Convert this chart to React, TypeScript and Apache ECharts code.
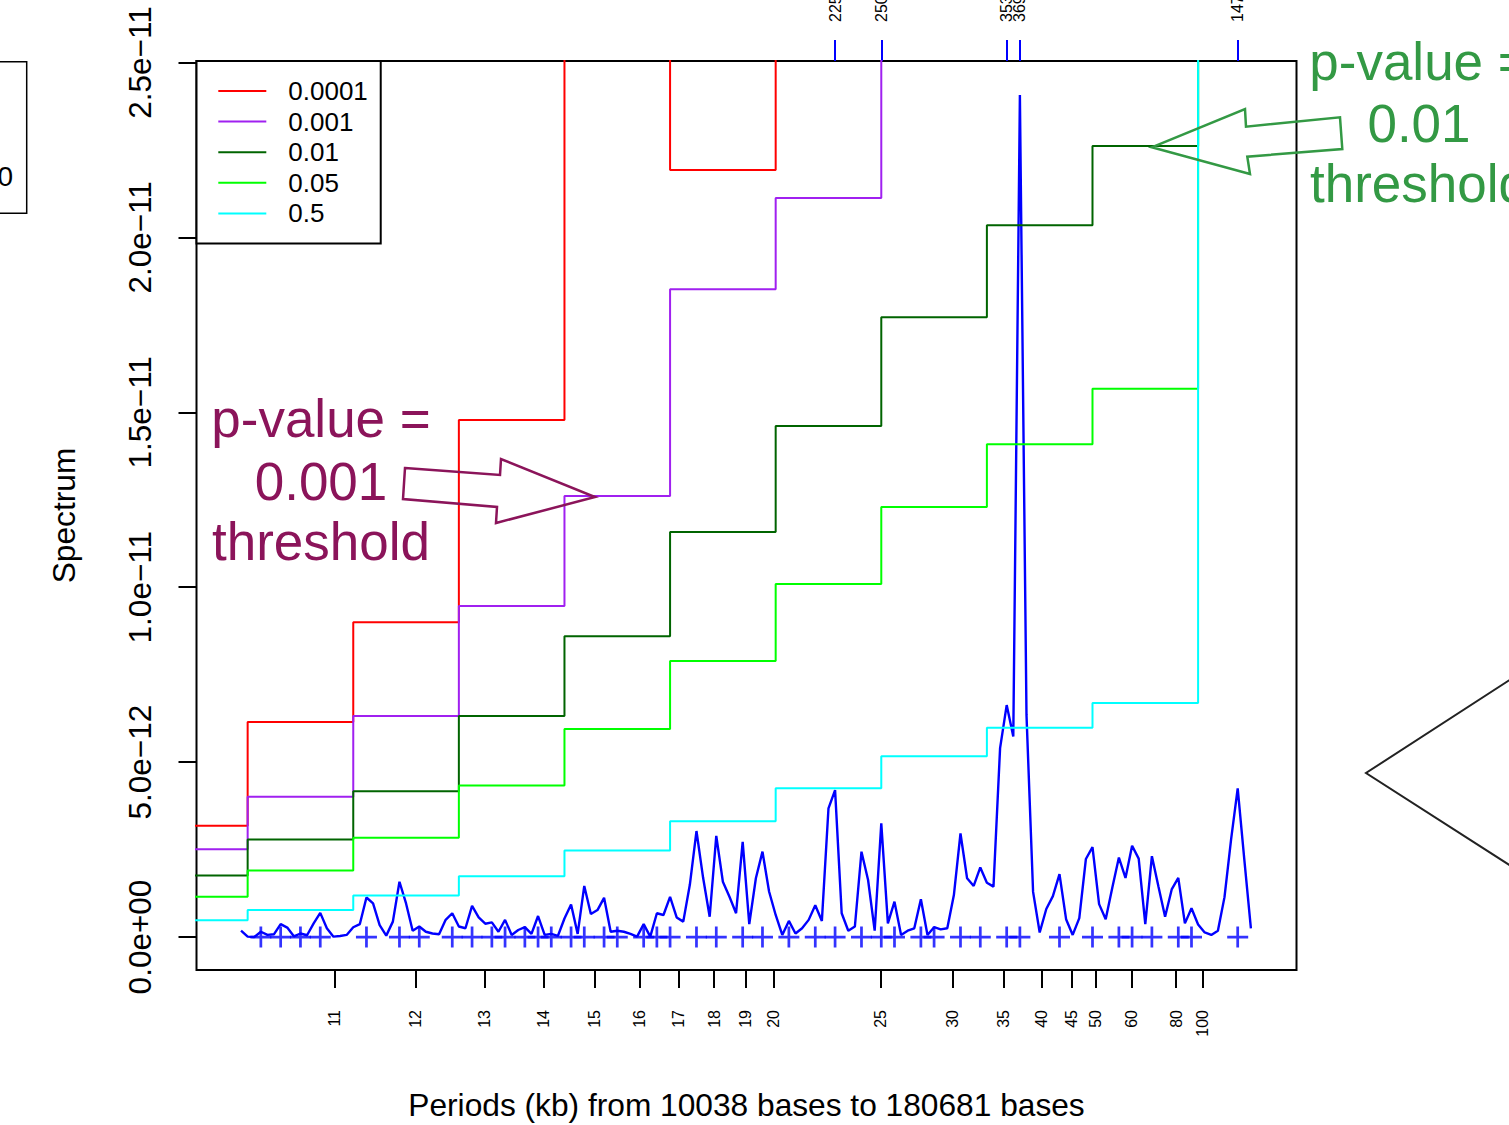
import React, { useEffect, useRef } from "react";
import * as echarts from "echarts";

// ---------- data ----------
const SEQ_LENGTH_BASES = 1626129;
const SEQ_LENGTH_KB = SEQ_LENGTH_BASES / 1000;
const FIRST_HARMONIC = 162;
const LAST_HARMONIC = 9;
const HARMONICS: number[] = [];
for (let k = FIRST_HARMONIC; k >= LAST_HARMONIC; k--) HARMONICS.push(k);

// spectrum values, in units of 1e-12, harmonic 162 .. 9
const SPECTRUM_E12 = [
  0.18, 0.01, 0.0, 0.15, 0.06, 0.08, 0.37, 0.27, 0.02, 0.1,
  0.05, 0.39, 0.69, 0.25, 0.01, 0.03, 0.06, 0.28, 0.37, 1.13,
  0.96, 0.34, 0.04, 0.44, 1.58, 0.96, 0.18, 0.3, 0.15, 0.1,
  0.08, 0.49, 0.68, 0.3, 0.25, 0.89, 0.56, 0.38, 0.42, 0.15,
  0.49, 0.06, 0.2, 0.28, 0.09, 0.6, 0.06, 0.09, 0.03, 0.53,
  0.93, 0.09, 1.46, 0.66, 0.77, 1.12, 0.15, 0.18, 0.15, 0.09,
  0.01, 0.37, 0.01, 0.68, 0.63, 1.15, 0.56, 0.44, 1.5, 3.03,
  1.7, 0.58, 2.89, 1.58, 1.15, 0.68, 2.72, 0.37, 1.68, 2.44,
  1.3, 0.63, 0.06, 0.46, 0.1, 0.25, 0.49, 0.91, 0.46, 3.68,
  4.2, 0.68, 0.18, 0.3, 2.44, 1.63, 0.18, 3.25, 0.39, 1.01,
  0.06, 0.18, 0.25, 1.08, 0.06, 0.28, 0.22, 0.25, 1.2, 2.96,
  1.68, 1.46, 1.99, 1.55, 1.44, 5.4, 6.63, 5.73, 24.07, 6.35,
  1.29, 0.13, 0.8, 1.17, 1.8, 0.51, 0.06, 0.54, 2.23, 2.57,
  0.94, 0.51, 1.41, 2.27, 1.69, 2.61, 2.24, 0.37, 2.31, 1.44,
  0.58, 1.36, 1.69, 0.39, 0.82, 0.36, 0.13, 0.06, 0.18, 1.14,
  2.79, 4.25, 2.22, 0.25,
];

// local peaks marked with "+"
const PEAK_HARMONICS = [
  159, 156, 153, 150, 143, 138, 135, 130, 127, 124, 122, 119, 117, 115, 112,
  110, 107, 105, 101, 99, 97, 93, 90, 86, 83, 79, 75, 72, 68, 65, 63, 59, 57,
  53, 50, 46, 44, 38, 33, 29, 27, 24, 20, 18, 11,
];

// top axis: significant peaks (period in bases)
const TOP_HARMONICS = [72, 65, 46, 44, 11];
const TOP_LABELS = ["22585", "25017", "35351", "36957", "147830"];

const PERIOD_TICKS_KB = [11, 12, 13, 14, 15, 16, 17, 18, 19, 20, 25, 30, 35, 40, 45, 50, 60, 80, 100];
const Y_TICKS_E12 = [0, 5, 10, 15, 20, 25];

// threshold step functions, bins of 16 harmonics
const BIN_EDGES = [177, 161, 145, 129, 113, 97, 81, 65, 49, 33, 17];
const OFF_SCALE = 28; // beyond top of the plot
const THR_0001 = [3.18, 6.15, 9.0, 14.78, OFF_SCALE, 21.93, OFF_SCALE];
const THR_001 = [2.51, 4.01, 6.32, 9.46, 12.61, 18.52, 21.13, OFF_SCALE];
const THR_01 = [1.76, 2.79, 4.17, 6.32, 8.6, 11.58, 14.61, 17.72, 20.35, 22.61, OFF_SCALE];
const THR_05 = [1.15, 1.9, 2.84, 4.33, 5.95, 7.89, 10.09, 12.29, 14.09, 15.67, OFF_SCALE];
const THR_5 = [0.48, 0.77, 1.19, 1.74, 2.47, 3.31, 4.25, 5.17, 5.98, 6.69, OFF_SCALE];

const THRESHOLDS = [
  { name: "0.0001", color: "#FF0000", values: THR_0001 },
  { name: "0.001", color: "#A020F0", values: THR_001 },
  { name: "0.01", color: "#006400", values: THR_01 },
  { name: "0.05", color: "#00FF00", values: THR_05 },
  { name: "0.5", color: "#00FFFF", values: THR_5 },
];

const X_TITLE = "Periods (kb) from 10038 bases to 180681 bases";
const Y_TITLE = "Spectrum";

// ---------- helpers ----------
const FONT = "Liberation Sans, Arial, Helvetica, sans-serif";
const freq = (k: number) => k / SEQ_LENGTH_KB;
const X_MIN = 0.001286;
const X_MAX = 0.103774;

function expLabel(v: number) {
  const s = (v * 1e-12).toExponential(1);
  const m = s.match(/^(-?[\d.]+)e([+-])(\d+)$/);
  if (!m) return s;
  const exp = m[3].padStart(2, "0");
  return m[1] + "e" + (m[2] === "-" ? "\u2212" : "+") + exp;
}

export default function App() {
  const ref = useRef<HTMLDivElement>(null);
  useEffect(() => {
    if (!ref.current) return;
    const chart = echarts.init(ref.current, undefined, { renderer: "svg" });

    const spectrumData = HARMONICS.map((k, i) => [freq(k), SPECTRUM_E12[i]]);
    const peakData = PEAK_HARMONICS.map((k) => [freq(k), 0]);

    const thresholdSeries = THRESHOLDS.map((t) => ({
      name: t.name,
      type: "line",
      step: "end",
      data: t.values.map((v, i) => [freq(BIN_EDGES[i]), v]),
      showSymbol: false,
      symbol: "none",
      lineStyle: { color: t.color, width: 2 },
      itemStyle: { color: t.color },
      clip: true,
      silent: true,
      z: 3,
    }));

    const topFreqs = TOP_HARMONICS.map(freq);

    const option: any = {
      animation: false,
      backgroundColor: "#ffffff",
      textStyle: { fontFamily: FONT },
      grid: {
        left: 196.5,
        right: 212.5,
        top: 61,
        bottom: 155,
        show: true,
        borderColor: "#000",
        borderWidth: 2,
        backgroundColor: "transparent",
        containLabel: false,
        outerBoundsMode: "none",
      },
      legend: {
        show: true,
        orient: "vertical",
        left: 196.5,
        top: 61,
        data: THRESHOLDS.map((t) => t.name),
        icon: "rect",
        itemWidth: 48,
        itemHeight: 2,
        itemGap: 0,
        padding: [14.7, 12.9, 14.7, 21.8],
        borderColor: "#000",
        borderWidth: 2,
        backgroundColor: "#fff",
        selectedMode: false,
        textStyle: {
          fontSize: 26,
          fontFamily: FONT,
          color: "#000",
          lineHeight: 30.6,
          padding: [0, 0, 0, 17],
        },
      },
      xAxis: [
        {
          type: "value",
          min: X_MIN,
          max: X_MAX,
          inverse: true,
          position: "bottom",
          name: X_TITLE,
          nameLocation: "middle",
          nameGap: 119,
          nameTextStyle: { fontSize: 31.7, fontFamily: FONT, color: "#000" },
          axisLine: { show: false, onZero: false },
          splitLine: { show: false },
          axisTick: {
            show: true,
            length: 18,
            customValues: PERIOD_TICKS_KB.map((p) => 1 / p),
            lineStyle: { color: "#000", width: 2 },
          },
          axisLabel: {
            show: true,
            rotate: 90,
            margin: 40,
            fontSize: 16,
            fontFamily: FONT,
            color: "#000",
            hideOverlap: false,
            customValues: PERIOD_TICKS_KB.map((p) => 1 / p),
            formatter: (v: number) => String(Math.round(1 / v)),
          },
        },
        {
          type: "value",
          min: X_MIN,
          max: X_MAX,
          inverse: true,
          position: "top",
          axisLine: { show: false, onZero: false },
          splitLine: { show: false },
          axisTick: {
            show: true,
            length: 21,
            customValues: topFreqs,
            lineStyle: { color: "#0000FF", width: 2 },
          },
          axisLabel: {
            show: true,
            rotate: -90,
            margin: 39,
            fontSize: 16,
            fontFamily: FONT,
            color: "#000",
            hideOverlap: false,
            customValues: topFreqs,
            formatter: (v: number) => {
              let best = 0;
              topFreqs.forEach((f, i) => {
                if (Math.abs(f - v) < Math.abs(topFreqs[best] - v)) best = i;
              });
              return TOP_LABELS[best];
            },
          },
        },
      ],
      yAxis: {
        type: "value",
        min: -0.943,
        max: 25.043,
        name: Y_TITLE,
        nameLocation: "middle",
        nameRotate: 90,
        nameGap: 117,
        nameTextStyle: { fontSize: 31.7, fontFamily: FONT, color: "#000" },
        axisLine: { show: false, onZero: false },
        splitLine: { show: false },
        axisTick: {
          show: true,
          length: 18,
          customValues: Y_TICKS_E12,
          lineStyle: { color: "#000", width: 2 },
        },
        axisLabel: {
          show: true,
          rotate: 90,
          margin: 41,
          fontSize: 31.5,
          fontFamily: FONT,
          color: "#000",
          hideOverlap: false,
          customValues: Y_TICKS_E12,
          formatter: (v: number) => expLabel(v),
        },
      },
      series: [
        {
          name: "spectrum",
          type: "line",
          data: spectrumData,
          showSymbol: false,
          symbol: "none",
          lineStyle: { color: "#0000FF", width: 2.4 },
          itemStyle: { color: "#0000FF" },
          clip: true,
          silent: true,
          z: 2,
        },
        {
          name: "peaks",
          type: "scatter",
          data: peakData,
          symbol: "path://M8.7,0H11.3V8.7H20V11.3H11.3V20H8.7V11.3H0V8.7H8.7Z",
          symbolSize: 21,
          itemStyle: { color: "#0000FF" },
          silent: true,
          z: 2,
        },
        ...thresholdSeries,
      ],
      graphic: [
        {
          type: "rect",
          shape: { x: -60, y: 61.7, width: 86.7, height: 151.6 },
          style: { fill: "none", stroke: "#000", lineWidth: 1.5 },
        },
        {
          type: "text",
          x: 13,
          y: 176.7,
          style: { text: "0", fontSize: 28, fontFamily: FONT, fill: "#000", align: "right", verticalAlign: "middle" },
        },
        {
          type: "polyline",
          shape: { points: [[1525, 670], [1366, 773], [1525, 875]] },
          style: { fill: "none", stroke: "#222", lineWidth: 2 },
        },
        {
          type: "polygon",
          shape: { points: [[405, 468], [500, 475], [501, 459], [595, 497], [496, 523], [497, 507], [403, 499]] },
          style: { fill: "none", stroke: "#8B145A", lineWidth: 2.5 },
          z: 10,
        },
        {
          type: "polygon",
          shape: { points: [[1151.7, 147.3], [1245, 109], [1246, 126.7], [1340, 117.3], [1342.3, 149], [1247.3, 156.7], [1250, 174]] },
          style: { fill: "none", stroke: "#339944", lineWidth: 2.5 },
          z: 10,
        },
        ...["p-value =", "0.001", "threshold"].map((t, i) => ({
          type: "text",
          x: 321,
          y: [418.5, 481.5, 541.5][i],
          z: 10,
          style: { text: t, fontSize: 53, fontFamily: FONT, fill: "#8B145A", align: "center", verticalAlign: "middle" },
        })),
        ...["p-value =", "0.01", "threshold"].map((t, i) => ({
          type: "text",
          x: 1419,
          y: [61.5, 123.2, 183.2][i],
          z: 10,
          style: { text: t, fontSize: 53, fontFamily: FONT, fill: "#339944", align: "center", verticalAlign: "middle" },
        })),
      ],
    };

    chart.setOption(option);
    return () => chart.dispose();
  }, []);

  return (
    <div
      ref={ref}
      style={{ position: "fixed", left: 0, top: 0, width: 1509, height: 1125, background: "#fff" }}
    />
  );
}
